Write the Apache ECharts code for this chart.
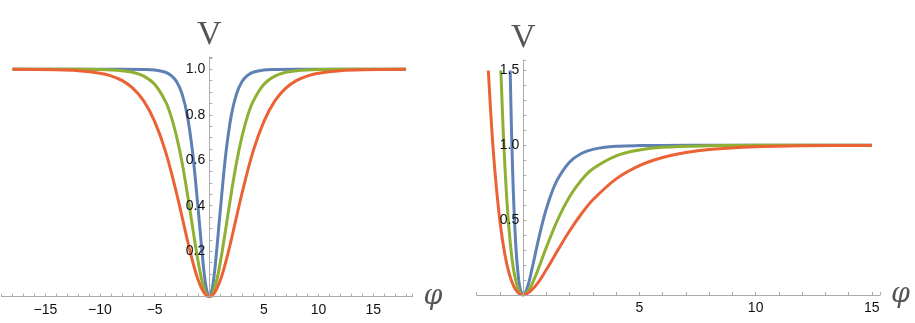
<!DOCTYPE html>
<html>
<head>
<meta charset="utf-8">
<title>V(φ)</title>
<script src="https://cdn.jsdelivr.net/npm/echarts@6/dist/echarts.min.js"></script>
<style>
  html, body { margin: 0; padding: 0; background: #fff; }
  #chart { width: 915px; height: 323px; }
</style>
</head>
<body>
<div id="chart"></div>
<script>
// left panel: symmetric wells
const leftBlueX = [-18, -8, -6, -5, -4, -3.5, -3, -2.5, -2, -1.5, -1, -0.5, -0.25, 0, 0.25, 0.5, 1, 1.5, 2, 2.5, 3, 3.5, 4, 5, 6, 8, 18]
const leftBlueV = [1, 1, 0.999, 0.997, 0.987, 0.973, 0.946, 0.893, 0.794, 0.623, 0.375, 0.117, 0.031, 0, 0.031, 0.117, 0.375, 0.623, 0.794, 0.893, 0.946, 0.973, 0.987, 0.997, 0.999, 1, 1]

const leftGreenX = [-18, -12, -10, -8, -7, -6, -5, -4, -3.5, -3, -2.5, -2, -1.5, -1, -0.5, 0, 0.5, 1, 1.5, 2, 2.5, 3, 3.5, 4, 5, 6, 7, 8, 10, 12, 18]
const leftGreenV = [1, 1, 0.999, 0.994, 0.987, 0.970, 0.934, 0.858, 0.794, 0.706, 0.592, 0.452, 0.297, 0.149, 0.040, 0, 0.040, 0.149, 0.297, 0.452, 0.592, 0.706, 0.794, 0.858, 0.934, 0.970, 0.987, 0.994, 0.999, 1, 1]

const leftOrangeX = [-18, -14, -12, -10, -9, -8, -7, -6, -5, -4, -3, -2, -1.5, -1, -0.5, 0, 0.5, 1, 1.5, 2, 3, 4, 5, 6, 7, 8, 9, 10, 12, 14, 18]
const leftOrangeV = [1, 0.998, 0.994, 0.983, 0.971, 0.951, 0.917, 0.861, 0.771, 0.638, 0.456, 0.248, 0.151, 0.071, 0.019, 0, 0.019, 0.071, 0.151, 0.248, 0.456, 0.638, 0.771, 0.861, 0.917, 0.951, 0.971, 0.983, 0.994, 0.998, 1]

// right panel: asymmetric wells
const rightBlueX = [-0.56, -0.5, -0.45, -0.4, -0.3, -0.2, -0.15, -0.1, 0, 0.2, 0.4, 0.6, 0.8, 1, 1.25, 1.5, 2, 2.5, 3, 4, 5, 7, 15]
const rightBlueV = [1.5, 1.086, 0.814, 0.593, 0.286, 0.109, 0.057, 0.024, 0, 0.062, 0.189, 0.331, 0.464, 0.578, 0.693, 0.779, 0.888, 0.945, 0.973, 0.993, 0.998, 1, 1]

const rightGreenX = [-0.96, -0.85, -0.7, -0.55, -0.4, -0.2, 0, 0.25, 0.5, 0.75, 1, 1.5, 2, 2.5, 3, 4, 5, 6, 8, 10, 15]
const rightGreenV = [1.5, 1.062, 0.627, 0.338, 0.157, 0.033, 0, 0.035, 0.116, 0.216, 0.320, 0.509, 0.658, 0.767, 0.843, 0.930, 0.969, 0.987, 0.997, 1, 1]

const rightOrangeX = [-1.5, -1.35, -1.2, -1, -0.8, -0.6, -0.4, -0.2, 0, 0.5, 1, 1.5, 2, 2.5, 3, 4, 5, 6, 7, 8, 10, 12, 15]
const rightOrangeV = [1.5, 1.103, 0.798, 0.493, 0.281, 0.141, 0.056, 0.013, 0, 0.055, 0.170, 0.302, 0.429, 0.541, 0.636, 0.776, 0.865, 0.919, 0.952, 0.972, 0.990, 0.997, 0.999]

const colors = ['#5E81B5', '#8FB032', '#EB6235']

const zip = (xs, ys) => xs.map((x, i) => [x, ys[i]])

const axisGray = '#aaaaaa'
const labelFont = { fontFamily: 'Liberation Sans, Arial, sans-serif', fontSize: 14, color: '#111' }

// 两个面板的网格
const grids = [
  { left: 1.6, top: 57, width: 411, height: 239.7, xMin: -19, xMax: 18.6 },
  { left: 476.7, top: 60, width: 403.3, height: 235, xMin: -2, xMax: 15.35 }
]

// label only every 5 on x, no 0
const xLabel = v => {
  if (v === 0 || Math.abs(Math.round(v) - v) > 1e-6 || Math.round(v) % 5 !== 0) return ''
  return v < 0 ? '\u2212' + (-v) : String(v)
}

const makeX = (gridIndex) => ({
  type: 'value',
  gridIndex,
  z: 5,
  min: grids[gridIndex].xMin,
  max: grids[gridIndex].xMax,
  interval: 1,
  name: 'φ',
  nameLocation: 'end',
  nameGap: 11,
  nameTextStyle: { fontFamily: 'DejaVu Serif, serif', fontStyle: 'italic', fontSize: 27, color: '#555' },
  axisLine: { show: true, onZero: false, lineStyle: { color: axisGray, width: 1 } },
  axisTick: { show: true, inside: true, length: 3, lineStyle: { color: axisGray } },
  axisLabel: { ...labelFont, margin: 6, formatter: xLabel },
  splitLine: { show: false }
})

// y axis sits at φ = 0, shift it in from the grid's left edge
const makeY = (gridIndex, max, interval, every) => {
  const g = grids[gridIndex]
  const shift = (0 - g.xMin) / (g.xMax - g.xMin) * g.width
  return {
    type: 'value',
    gridIndex,
    z: 5,
    min: 0,
    max,
    interval,
    offset: -shift,
    name: 'V',
    nameLocation: 'end',
    nameGap: 5,
    nameTextStyle: { fontFamily: 'Liberation Serif, DejaVu Serif, serif', fontSize: 34, color: '#555' },
    axisLine: { show: true, onZero: false, lineStyle: { color: axisGray, width: 1 } },
    axisTick: { show: true, inside: true, length: 3, lineStyle: { color: axisGray } },
    axisLabel: {
      ...labelFont,
      margin: 4,
      formatter: v => {
        const k = Math.round(v * 100)
        if (k === 0 || k % every !== 0) return ''
        return v.toFixed(1)
      }
    },
    splitLine: { show: false }
  }
}

const lineSeries = (xAxisIndex, data, color) => ({
  type: 'line',
  xAxisIndex,
  yAxisIndex: xAxisIndex,
  z: 1,
  data,
  showSymbol: false,
  smooth: 0.35,
  lineStyle: { color, width: 3 },
  itemStyle: { color },
  silent: true
})

const chart = echarts.init(document.getElementById('chart'))
chart.setOption({
  animation: false,
  grid: grids.map(g => ({
    left: g.left, top: g.top, width: g.width, height: g.height,
    containLabel: false, outerBoundsMode: 'none'
  })),
  xAxis: [makeX(0), makeX(1)],
  yAxis: [makeY(0, 1.054, 0.05, 20), makeY(1, 1.57, 0.1, 50)],
  series: [
    lineSeries(0, zip(leftBlueX, leftBlueV), colors[0]),
    lineSeries(0, zip(leftGreenX, leftGreenV), colors[1]),
    lineSeries(0, zip(leftOrangeX, leftOrangeV), colors[2]),
    lineSeries(1, zip(rightBlueX, rightBlueV), colors[0]),
    lineSeries(1, zip(rightGreenX, rightGreenV), colors[1]),
    lineSeries(1, zip(rightOrangeX, rightOrangeV), colors[2])
  ]
})
</script>
</body>
</html>
